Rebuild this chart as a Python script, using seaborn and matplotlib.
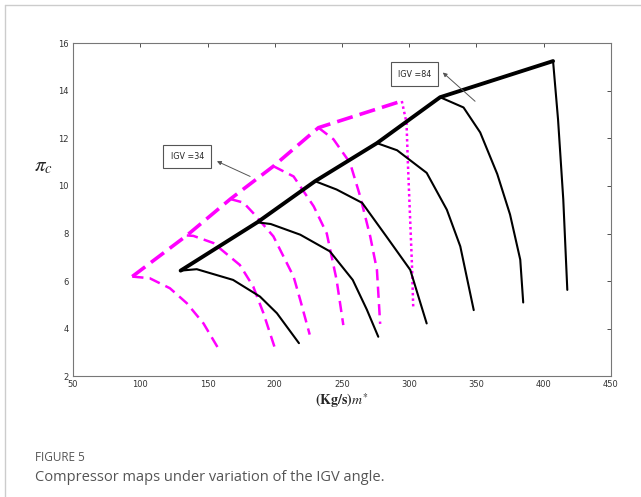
import numpy as np
import pandas as pd
import matplotlib
matplotlib.use("Agg")
import matplotlib.pyplot as plt
import seaborn as sns

# --- дані ---
# лінія помпажу IGV=84 (чорна, товста)
surge84_x = [130, 187, 230, 276, 323, 407]
surge84_y = [6.44, 8.47, 10.2, 11.8, 13.73, 15.25]

# лінії швидкості IGV=84 (чорні, тонкі)
speed84 = [
    ([130, 142, 169, 189, 201.6, 218], [6.44, 6.5, 6.05, 5.35, 4.65, 3.39]),
    ([187, 197, 219, 241, 258, 268.5, 277], [8.47, 8.4, 7.95, 7.25, 6.05, 4.8, 3.66]),
    ([230, 246, 265, 283, 300.8, 313], [10.2, 9.85, 9.29, 7.88, 6.47, 4.22]),
    ([276, 291, 313, 328, 338, 348], [11.8, 11.5, 10.55, 9.0, 7.46, 4.78]),
    ([323, 340.4, 352.8, 365.5, 375, 382.6, 384.8], [13.73, 13.3, 12.25, 10.5, 8.8, 6.9, 5.1]),
    ([407, 410.7, 414.6, 417.6], [15.25, 12.8, 9.43, 5.63]),
]

# лінія помпажу IGV=34 (пурпурна, товста пунктирна)
surge34_x = [94, 134.6, 167, 199, 232.5, 294.5]
surge34_y = [6.19, 7.92, 9.45, 10.83, 12.45, 13.57]

# лінії швидкості IGV=34 (пурпурні, пунктир)
speed34 = [
    ([94, 107, 122, 134.6, 147, 158], [6.19, 6.12, 5.7, 5.07, 4.22, 3.17]),
    ([134.6, 139.5, 154.4, 174, 184, 191.6, 200], [7.92, 7.9, 7.6, 6.68, 5.77, 4.65, 3.2]),
    ([167, 176.7, 184, 199, 214, 219, 226], [9.45, 9.3, 8.86, 7.88, 6.19, 5.2, 3.75]),
    ([199, 214, 229, 238.7, 246, 251], [10.83, 10.4, 9.14, 8.0, 6.05, 4.15]),
    ([232.5, 243.7, 256, 263.5, 271, 276, 278.4], [12.45, 11.96, 10.97, 9.57, 7.88, 6.47, 4.2]),
]
# остання лінія (крапками)
dotted34_x = [294.5, 298, 299, 302, 303]
dotted34_y = [13.57, 12.66, 11.0, 6.77, 4.9]

x_ticks = [50, 100, 150, 200, 250, 300, 350, 400, 450]
y_ticks = [2, 4, 6, 8, 10, 12, 14, 16]

sns.set_style("white")
plt.rcParams["mathtext.fontset"] = "stix"

fig = plt.figure(figsize=(6.41, 4.97), dpi=100)
ax = fig.add_axes([0.114, 0.243, 0.839, 0.670])

magenta = "#ff00ff"

for xs, ys in speed34:
    sns.lineplot(x=xs, y=ys, sort=False, ax=ax, color=magenta, lw=1.8,
                 linestyle=(0, (4.5, 2.5)))
sns.lineplot(x=dotted34_x, y=dotted34_y, sort=False, ax=ax, color=magenta,
             lw=1.8, linestyle=(0, (1, 1.2)))
sns.lineplot(x=surge34_x, y=surge34_y, sort=False, ax=ax, color=magenta,
             lw=2.6, linestyle=(0, (4.5, 2)))

for xs, ys in speed84:
    sns.lineplot(x=xs, y=ys, sort=False, ax=ax, color="black", lw=1.5)
sns.lineplot(x=surge84_x, y=surge84_y, sort=False, ax=ax, color="black", lw=2.8)

# підписи в рамках
box = dict(boxstyle="square,pad=0.9", fc="white", ec="#555555", lw=0.8)
ax.text(135, 11.24, "IGV =34", fontsize=5.8, ha="center", va="center", bbox=box)
ax.text(304, 14.7, "IGV =84", fontsize=5.8, ha="center", va="center", bbox=box)

# стрілки від ліній до підписів
arrow = dict(arrowstyle="-|>", color="#555555", lw=0.7, mutation_scale=6,
             shrinkA=0, shrinkB=0)
ax.annotate("", xy=(157, 11.04), xytext=(181.7, 10.4), arrowprops=arrow)
ax.annotate("", xy=(325, 14.77), xytext=(349, 13.56), arrowprops=arrow)

ax.set_xlim(50, 450)
ax.set_ylim(2, 16)
ax.set_xticks(x_ticks)
ax.set_yticks(y_ticks)
ax.tick_params(direction="in", length=3, width=0.6, labelsize=6, colors="#333333",
               top=True, right=True, pad=3)
for s in ax.spines.values():
    s.set_color("#777777")
    s.set_linewidth(0.8)

ax.set_xlabel(r"$\mathbf{(Kg/s)}\mathit{m}^{*}$", fontsize=10, labelpad=1)
ax.set_ylabel(r"$\pi_c$", fontsize=15, rotation=0, labelpad=14)
ax.yaxis.set_label_coords(-0.055, 0.6)

# підпис рисунка
fig.text(0.055, 0.073, "FIGURE 5", fontsize=8.5, color="#555555", family="Open Sans")
fig.text(0.055, 0.033, "Compressor maps under variation of the IGV angle.",
         fontsize=10.5, color="#555555", family="Open Sans")

# рамка картки
fig.add_artist(plt.Line2D([0.008, 1.0], [0.99, 0.99], color="#cccccc", lw=1,
                          transform=fig.transFigure))
fig.add_artist(plt.Line2D([0.008, 0.008], [0.0, 0.99], color="#cccccc", lw=1,
                          transform=fig.transFigure))

fig.savefig("out.png", dpi=100)
